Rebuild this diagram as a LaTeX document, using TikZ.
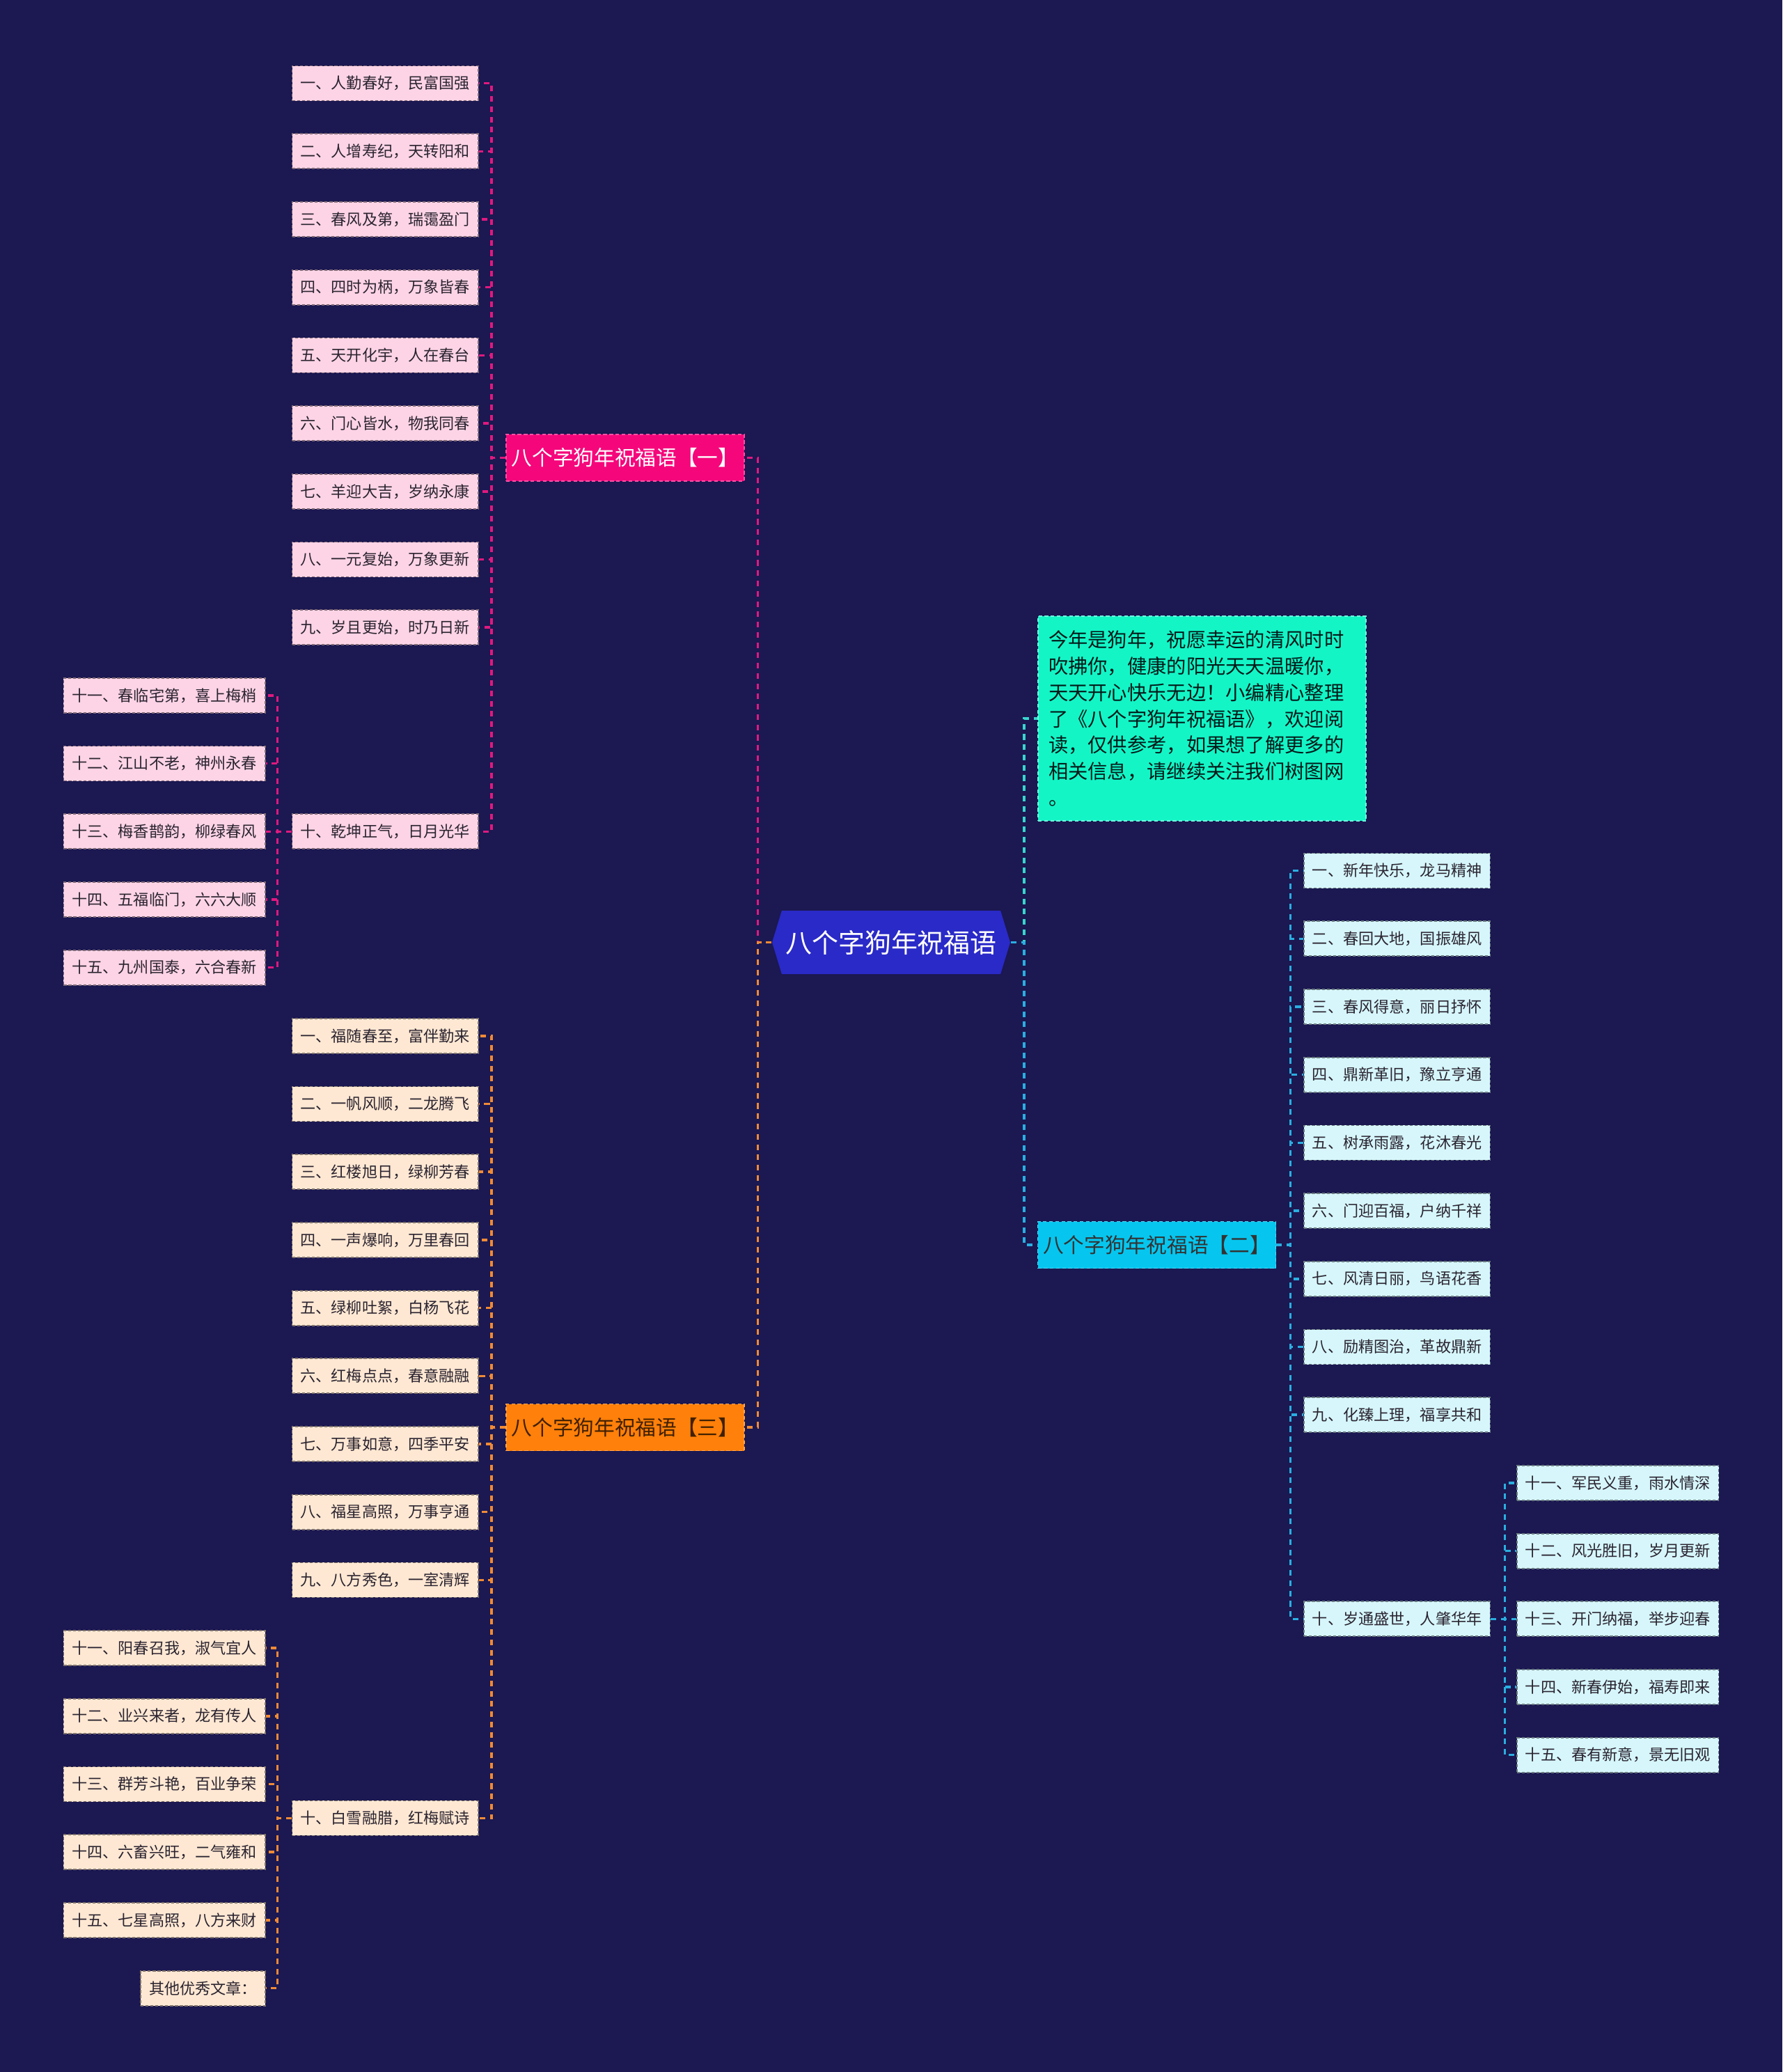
\documentclass[tikz,border=0pt]{standalone}
\usepackage{fontspec}
\setmainfont{Noto Sans CJK SC}
\usepackage{tikz}
\usetikzlibrary{shapes.symbols}
\definecolor{bgnavy}{HTML}{1B1852}
\definecolor{rootblue}{HTML}{2A2AC8}
\definecolor{grpapink}{HTML}{F5077B}
\definecolor{grpbcyan}{HTML}{06C6EF}
\definecolor{grpcorange}{HTML}{FF800A}
\definecolor{descmint}{HTML}{14F5C6}
\definecolor{leafpink}{HTML}{FDD4E6}
\definecolor{leafcyan}{HTML}{D6F6FB}
\definecolor{leafpeach}{HTML}{FFE8D3}
\definecolor{linepink}{HTML}{E0197F}
\definecolor{lineorange}{HTML}{F08A35}
\definecolor{linecyan}{HTML}{2AAEE0}
\definecolor{lineteal}{HTML}{38D5CC}
\definecolor{darktext}{HTML}{2A2430}

\begin{document}
\begin{tikzpicture}[
  leafbox/.style={rectangle, minimum height=0.5cm, inner xsep=0.12cm,
                  inner ysep=0pt, font=\fontsize{6.3}{7.6}\selectfont,
                  text=darktext, dash pattern=on 1.2pt off 0.8pt, line width=0.5pt},
  pkleaf/.style={leafbox, fill=leafpink, draw=leafpink!50!black, anchor=east},
  ocleaf/.style={leafbox, fill=leafpeach, draw=leafpeach!50!black, anchor=east},
  cyleaf/.style={leafbox, fill=leafcyan, draw=leafcyan!50!black, anchor=west},
  grpnode/.style={rectangle, minimum width=3.42cm, minimum height=0.67cm,
                  inner sep=0pt, font=\fontsize{8.45}{10}\selectfont,
                  dash pattern=on 1.5pt off 1pt, line width=0.5pt},
  rootnode/.style={signal, signal to=west and east, signal pointer angle=146,
                  fill=rootblue, minimum width=3.42cm, minimum height=0.91cm,
                  inner sep=0pt, text=white, font=\fontsize{10.8}{13}\selectfont},
  conn/.style={line width=1pt, dash pattern=on 2.3pt off 1.9pt},
]

%% ── Canvas ───────────────────────────────────────────────────────────────────
\useasboundingbox (0,0) rectangle (25.6,-29.76);
\fill[bgnavy] (0,0) rectangle (25.6,-29.76);

%% ── Centre and groups ────────────────────────────────────────────────────────
\node[rootnode] (root) at (12.80,-13.535) {八个字狗年祝福语};

\node[grpnode, fill=grpapink, draw=grpapink!70!white, text=white]
    (grpA) at (8.98,-6.575) {八个字狗年祝福语【一】};
\node[grpnode, fill=grpbcyan, draw=grpbcyan!70!white, text=black!80]
    (grpB) at (16.615,-17.88) {八个字狗年祝福语【二】};
\node[grpnode, fill=grpcorange, draw=grpcorange!70!white, text=black!75!orange]
    (grpC) at (8.98,-20.50) {八个字狗年祝福语【三】};

% intro text sits above group two
\node[rectangle, fill=descmint, draw=descmint!60!white, dash pattern=on 1.5pt off 1pt,
      minimum width=4.71cm, minimum height=2.94cm, inner xsep=0.15cm,
      text width=4.41cm, align=left, text=black!80!teal,
      font=\fontsize{8.05}{10.76}\selectfont]
    (desc) at (17.265,-10.32) {今年是狗年，祝愿幸运的清风时时\\
    吹拂你，健康的阳光天天温暖你，\\
    天天开心快乐无边！小编精心整理\\
    了《八个字狗年祝福语》，欢迎阅\\
    读，仅供参考，如果想了解更多的\\
    相关信息，请继续关注我们树图网\\
    。};

%% ── Group one (pink) ─────────────────────────────────────────────────────────
\node[pkleaf] (a1)  at (6.88,-1.196)  {一、人勤春好，民富国强};
\node[pkleaf] (a2)  at (6.88,-2.173)  {二、人增寿纪，天转阳和};
\node[pkleaf] (a3)  at (6.88,-3.150)  {三、春风及第，瑞霭盈门};
\node[pkleaf] (a4)  at (6.88,-4.127)  {四、四时为柄，万象皆春};
\node[pkleaf] (a5)  at (6.88,-5.104)  {五、天开化宇，人在春台};
\node[pkleaf] (a6)  at (6.88,-6.081)  {六、门心皆水，物我同春};
\node[pkleaf] (a7)  at (6.88,-7.058)  {七、羊迎大吉，岁纳永康};
\node[pkleaf] (a8)  at (6.88,-8.035)  {八、一元复始，万象更新};
\node[pkleaf] (a9)  at (6.88,-9.012)  {九、岁且更始，时乃日新};
\node[pkleaf] (a10) at (6.88,-11.943) {十、乾坤正气，日月光华};
\node[pkleaf] (a11) at (3.82,-9.989)  {十一、春临宅第，喜上梅梢};
\node[pkleaf] (a12) at (3.82,-10.966) {十二、江山不老，神州永春};
\node[pkleaf] (a13) at (3.82,-11.943) {十三、梅香鹊韵，柳绿春风};
\node[pkleaf] (a14) at (3.82,-12.920) {十四、五福临门，六六大顺};
\node[pkleaf] (a15) at (3.82,-13.897) {十五、九州国泰，六合春新};

%% ── Group three (orange) ─────────────────────────────────────────────────────
\node[ocleaf] (c1)  at (6.88,-14.878) {一、福随春至，富伴勤来};
\node[ocleaf] (c2)  at (6.88,-15.855) {二、一帆风顺，二龙腾飞};
\node[ocleaf] (c3)  at (6.88,-16.832) {三、红楼旭日，绿柳芳春};
\node[ocleaf] (c4)  at (6.88,-17.809) {四、一声爆响，万里春回};
\node[ocleaf] (c5)  at (6.88,-18.786) {五、绿柳吐絮，白杨飞花};
\node[ocleaf] (c6)  at (6.88,-19.763) {六、红梅点点，春意融融};
\node[ocleaf] (c7)  at (6.88,-20.740) {七、万事如意，四季平安};
\node[ocleaf] (c8)  at (6.88,-21.717) {八、福星高照，万事亨通};
\node[ocleaf] (c9)  at (6.88,-22.694) {九、八方秀色，一室清辉};
\node[ocleaf] (c10) at (6.88,-26.114) {十、白雪融腊，红梅赋诗};
\node[ocleaf] (c11) at (3.82,-23.671) {十一、阳春召我，淑气宜人};
\node[ocleaf] (c12) at (3.82,-24.648) {十二、业兴来者，龙有传人};
\node[ocleaf] (c13) at (3.82,-25.625) {十三、群芳斗艳，百业争荣};
\node[ocleaf] (c14) at (3.82,-26.602) {十四、六畜兴旺，二气雍和};
\node[ocleaf] (c15) at (3.82,-27.579) {十五、七星高照，八方来财};
\node[ocleaf] (c16) at (3.82,-28.556) {其他优秀文章：};

%% ── Group two (cyan) ─────────────────────────────────────────────────────────
\node[cyleaf] (b1)  at (18.72,-12.506) {一、新年快乐，龙马精神};
\node[cyleaf] (b2)  at (18.72,-13.483) {二、春回大地，国振雄风};
\node[cyleaf] (b3)  at (18.72,-14.460) {三、春风得意，丽日抒怀};
\node[cyleaf] (b4)  at (18.72,-15.437) {四、鼎新革旧，豫立亨通};
\node[cyleaf] (b5)  at (18.72,-16.414) {五、树承雨露，花沐春光};
\node[cyleaf] (b6)  at (18.72,-17.391) {六、门迎百福，户纳千祥};
\node[cyleaf] (b7)  at (18.72,-18.368) {七、风清日丽，鸟语花香};
\node[cyleaf] (b8)  at (18.72,-19.345) {八、励精图治，革故鼎新};
\node[cyleaf] (b9)  at (18.72,-20.322) {九、化臻上理，福享共和};
\node[cyleaf] (b10) at (18.72,-23.253) {十、岁通盛世，人肇华年};
\node[cyleaf] (b11) at (21.78,-21.299) {十一、军民义重，雨水情深};
\node[cyleaf] (b12) at (21.78,-22.276) {十二、风光胜旧，岁月更新};
\node[cyleaf] (b13) at (21.78,-23.253) {十三、开门纳福，举步迎春};
\node[cyleaf] (b14) at (21.78,-24.230) {十四、新春伊始，福寿即来};
\node[cyleaf] (b15) at (21.78,-25.207) {十五、春有新意，景无旧观};

%% ── Connectors ───────────────────────────────────────────────────────────────
\draw[conn, linepink]   (root.west) -- ++(-0.2,0) |- (grpA.east);
\draw[conn, lineorange] (root.west) -- ++(-0.2,0) |- (grpC.east);
\draw[conn, lineteal]   (root.east) -- ++(0.19,0) |- (desc.west);
\draw[conn, linecyan]   (root.east) -- ++(0.19,0) |- (grpB.west);

\draw[conn, linepink] (grpA.west) -- ++(-0.2,0) |- (a1.east);
\draw[conn, linepink] (grpA.west) -- ++(-0.2,0) |- (a2.east);
\draw[conn, linepink] (grpA.west) -- ++(-0.2,0) |- (a3.east);
\draw[conn, linepink] (grpA.west) -- ++(-0.2,0) |- (a4.east);
\draw[conn, linepink] (grpA.west) -- ++(-0.2,0) |- (a5.east);
\draw[conn, linepink] (grpA.west) -- ++(-0.2,0) |- (a6.east);
\draw[conn, linepink] (grpA.west) -- ++(-0.2,0) |- (a7.east);
\draw[conn, linepink] (grpA.west) -- ++(-0.2,0) |- (a8.east);
\draw[conn, linepink] (grpA.west) -- ++(-0.2,0) |- (a9.east);
\draw[conn, linepink] (grpA.west) -- ++(-0.2,0) |- (a10.east);
\draw[conn, linepink] (a10.west) -- ++(-0.2,0) |- (a11.east);
\draw[conn, linepink] (a10.west) -- ++(-0.2,0) |- (a12.east);
\draw[conn, linepink] (a10.west) -- ++(-0.2,0) |- (a13.east);
\draw[conn, linepink] (a10.west) -- ++(-0.2,0) |- (a14.east);
\draw[conn, linepink] (a10.west) -- ++(-0.2,0) |- (a15.east);

\draw[conn, lineorange] (grpC.west) -- ++(-0.2,0) |- (c1.east);
\draw[conn, lineorange] (grpC.west) -- ++(-0.2,0) |- (c2.east);
\draw[conn, lineorange] (grpC.west) -- ++(-0.2,0) |- (c3.east);
\draw[conn, lineorange] (grpC.west) -- ++(-0.2,0) |- (c4.east);
\draw[conn, lineorange] (grpC.west) -- ++(-0.2,0) |- (c5.east);
\draw[conn, lineorange] (grpC.west) -- ++(-0.2,0) |- (c6.east);
\draw[conn, lineorange] (grpC.west) -- ++(-0.2,0) |- (c7.east);
\draw[conn, lineorange] (grpC.west) -- ++(-0.2,0) |- (c8.east);
\draw[conn, lineorange] (grpC.west) -- ++(-0.2,0) |- (c9.east);
\draw[conn, lineorange] (grpC.west) -- ++(-0.2,0) |- (c10.east);
\draw[conn, lineorange] (c10.west) -- ++(-0.2,0) |- (c11.east);
\draw[conn, lineorange] (c10.west) -- ++(-0.2,0) |- (c12.east);
\draw[conn, lineorange] (c10.west) -- ++(-0.2,0) |- (c13.east);
\draw[conn, lineorange] (c10.west) -- ++(-0.2,0) |- (c14.east);
\draw[conn, lineorange] (c10.west) -- ++(-0.2,0) |- (c15.east);
\draw[conn, lineorange] (c10.west) -- ++(-0.2,0) |- (c16.east);

\draw[conn, linecyan] (grpB.east) -- ++(0.2,0) |- (b1.west);
\draw[conn, linecyan] (grpB.east) -- ++(0.2,0) |- (b2.west);
\draw[conn, linecyan] (grpB.east) -- ++(0.2,0) |- (b3.west);
\draw[conn, linecyan] (grpB.east) -- ++(0.2,0) |- (b4.west);
\draw[conn, linecyan] (grpB.east) -- ++(0.2,0) |- (b5.west);
\draw[conn, linecyan] (grpB.east) -- ++(0.2,0) |- (b6.west);
\draw[conn, linecyan] (grpB.east) -- ++(0.2,0) |- (b7.west);
\draw[conn, linecyan] (grpB.east) -- ++(0.2,0) |- (b8.west);
\draw[conn, linecyan] (grpB.east) -- ++(0.2,0) |- (b9.west);
\draw[conn, linecyan] (grpB.east) -- ++(0.2,0) |- (b10.west);
\draw[conn, linecyan] (b10.east) -- ++(0.2,0) |- (b11.west);
\draw[conn, linecyan] (b10.east) -- ++(0.2,0) |- (b12.west);
\draw[conn, linecyan] (b10.east) -- ++(0.2,0) |- (b13.west);
\draw[conn, linecyan] (b10.east) -- ++(0.2,0) |- (b14.west);
\draw[conn, linecyan] (b10.east) -- ++(0.2,0) |- (b15.west);

\end{tikzpicture}
\end{document}
